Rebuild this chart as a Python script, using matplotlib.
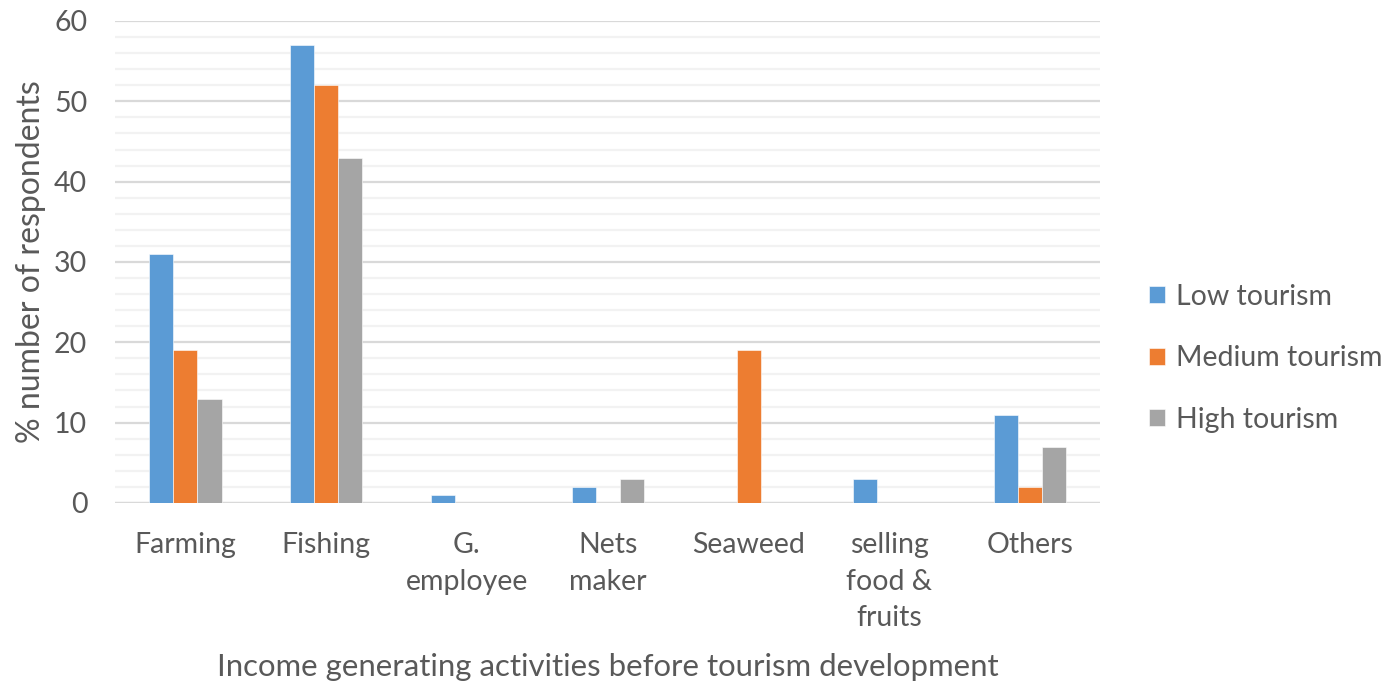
import matplotlib
matplotlib.use("Agg")
import matplotlib.pyplot as plt
import numpy as np

categories = ["Farming", "Fishing", "G.\nemployee", "Nets\nmaker", "Seaweed", "selling\nfood &\nfruits", "Others"]
series_names = ["Low tourism", "Medium tourism", "High tourism"]
low = [31, 57, 1, 2, 0, 3, 11]
medium = [19, 52, 0, 0, 19, 0, 2]
high = [13, 43, 0, 3, 0, 0, 7]
colors = ["#5b9bd5", "#ed7d31", "#a5a5a5"]

plt.rcParams['font.family'] = ['Lato', 'DejaVu Sans']
txt = "#595959"

fig = plt.figure(figsize=(13.86, 6.88), dpi=100)
ax = fig.add_axes([0.083, 0.269, 0.711, 0.7005])

x = np.arange(len(categories))
w = 0.171
for i, (vals, name) in enumerate(zip([low, medium, high], series_names)):
    ax.bar(x + (i - 1) * w, vals, width=w, color=colors[i], label=name,
           edgecolor="white", linewidth=0.4, zorder=3)

ax.set_xlim(-0.5, len(categories) - 0.5)
ax.set_ylim(0, 60)
ax.set_yticks(np.arange(0, 61, 10))
ax.set_yticks(np.arange(0, 61, 2), minor=True)
ax.grid(axis='y', which='major', color='#d9d9d9', linewidth=1.6, zorder=0)
ax.grid(axis='y', which='minor', color='#f2f2f2', linewidth=1.6, zorder=0)
ax.set_xticks(x)
ax.set_xticklabels(categories, fontsize=20.5, color=txt, va='top', linespacing=1.5)
ax.tick_params(axis='both', which='both', length=0, colors=txt, labelsize=20.5)
ax.tick_params(axis='x', pad=21)
ax.tick_params(axis='y', pad=20)
for s in ax.spines.values():
    s.set_visible(False)
ax.axhline(0, color='#d9d9d9', linewidth=1.6, zorder=2)

ax.set_ylabel("% number of respondents", fontsize=23, color=txt, labelpad=6)
ax.set_xlabel("Income generating activities before tourism development", fontsize=22.4, color=txt, labelpad=16)

leg = ax.legend(loc='center left', bbox_to_anchor=(1.029, 0.30), frameon=False,
                fontsize=20.5, labelspacing=1.25, handlelength=0.55, handleheight=0.55,
                handletextpad=0.4, borderaxespad=0.3)
for t in leg.get_texts():
    t.set_color(txt)

fig.savefig("out.png", dpi=100)
